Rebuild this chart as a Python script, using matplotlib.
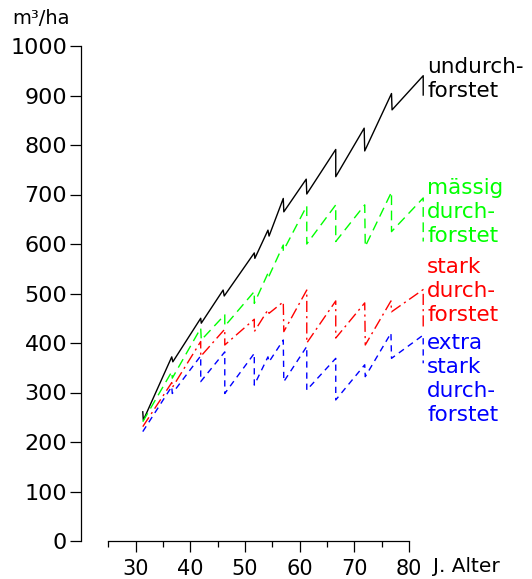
import matplotlib
matplotlib.use('Agg')
import matplotlib.pyplot as plt

plt.rcParams['font.family'] = ['DejaVu Sans']

# -------------------------- Data (age in years, stand volume in m3/ha) --------------------------
age_undurch = [31.3, 31.4, 36.6, 36.8, 41.9, 42.0, 46.0, 46.2, 51.7, 51.8, 54.2, 54.4,
               57.0, 57.1, 61.2, 61.3, 66.6, 66.6, 71.8, 71.9, 76.8, 76.9, 82.6, 82.6]
vol_undurch = [261, 244, 372, 362, 450, 440, 507, 495, 582, 571, 628, 616,
               692, 665, 731, 701, 791, 736, 834, 788, 904, 871, 940, 901]

age_maessig = [31.3, 36.6, 36.7, 41.9, 42.0, 46.3, 46.3, 51.7, 51.7, 54.2, 54.3, 57.0,
               57.0, 61.3, 61.3, 66.6, 66.6, 71.9, 72.0, 76.8, 76.8, 82.6, 82.6]
vol_maessig = [241, 342, 329, 430, 406, 457, 434, 504, 480, 541, 533, 598,
               586, 677, 600, 679, 605, 679, 595, 705, 625, 693, 605]

age_stark = [31.3, 36.6, 36.7, 41.9, 41.9, 46.3, 46.3, 51.7, 51.7, 54.2, 54.4, 57.0,
             57.1, 61.3, 61.3, 66.6, 66.6, 71.9, 72.0, 76.7, 76.8, 82.6, 82.6]
vol_stark = [231, 320, 310, 403, 373, 428, 396, 448, 423, 467, 460, 483,
             423, 507, 400, 485, 410, 481, 396, 485, 463, 508, 433]

age_extra = [31.3, 36.6, 36.7, 41.9, 41.9, 46.3, 46.3, 51.7, 51.7, 54.2, 54.4, 57.0,
             57.1, 61.3, 61.3, 66.6, 66.6, 71.9, 72.0, 76.7, 76.8, 82.6, 82.6]
vol_extra = [221, 312, 298, 374, 322, 382, 298, 379, 315, 372, 362, 406,
             322, 393, 305, 369, 285, 356, 332, 420, 369, 416, 359]

series_labels = ['undurch-\nforstet', 'mässig\ndurch-\nforstet',
                 'stark\ndurch-\nforstet', 'extra\nstark\ndurch-\nforstet']
label_centers = [934, 665, 505, 327]

# -------------------------- Plotting --------------------------
fig = plt.figure(figsize=(5.32, 5.79), dpi=100)
ax = fig.add_axes([81 / 532, 38 / 579, 344.4 / 532, 495 / 579])

series = [
    (age_undurch, vol_undurch, dict(color='#000000', linestyle='-')),
    (age_maessig, vol_maessig, dict(color='#00ff00', linestyle=(0, (7, 4)))),
    (age_stark, vol_stark, dict(color='#ff0000', linestyle=(0, (8, 3, 1.5, 3)))),
    (age_extra, vol_extra, dict(color='#0000ff', linestyle=(0, (4.5, 3.5)))),
]
for (xs, ys, style), lab, yc in zip(series, series_labels, label_centers):
    ax.plot(xs, ys, linewidth=1.0, clip_on=False, **style)
    ax.text(83.3, yc, lab, color=style['color'], fontsize=15.5, ha='left',
            va='center', linespacing=1.25, clip_on=False)

ax.set_xlim(20, 83)
ax.set_ylim(0, 1000)

# Axes style
ax.spines['top'].set_visible(False)
ax.spines['right'].set_visible(False)
ax.spines['bottom'].set_bounds(25, 80)
for sp in ('left', 'bottom'):
    ax.spines[sp].set_linewidth(0.9)

ax.set_yticks(range(0, 1001, 100))
ax.set_xticks([30, 40, 50, 60, 70, 80])
ax.set_xticks([25, 35, 45, 55, 65, 75], minor=True)
ax.tick_params(axis='y', length=8, width=0.9, labelsize=16, pad=2)
ax.tick_params(axis='x', which='major', length=8, width=0.9, labelsize=15, pad=5)
ax.tick_params(axis='x', which='minor', length=4.5, width=0.9)

fig.text(12 / 532, 1 - 19 / 579, 'm³/ha', fontsize=14, ha='left', va='center')
fig.text(433 / 532, 1 - 567 / 579, 'J. Alter', fontsize=14.5, ha='left', va='center')

plt.savefig('out.png', dpi=100)
